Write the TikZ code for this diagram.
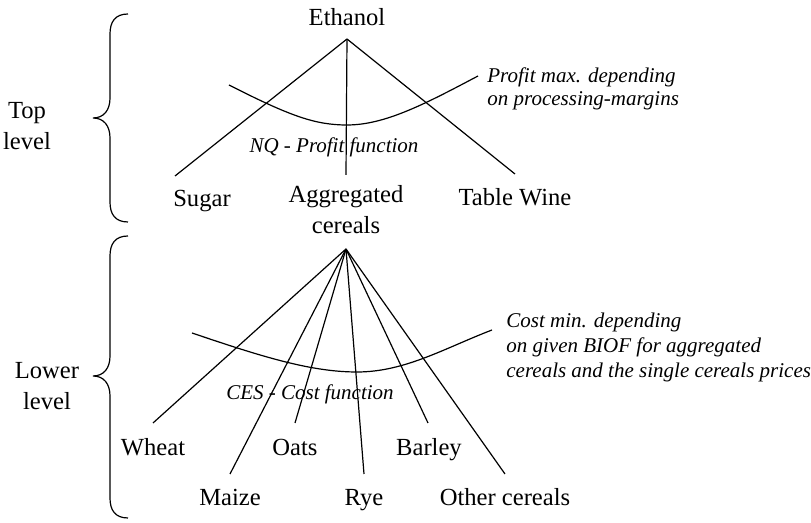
\documentclass[tikz,border=0pt]{standalone}
\usepackage{fontspec}
\setmainfont{Liberation Serif}
\begin{document}
\begin{tikzpicture}[x=0.5pt,y=-0.5pt,
  lbl/.style={inner sep=0pt,font=\fontsize{12.3}{15.5}\selectfont,align=center},
  word/.style={lbl,text height=1.55ex,text depth=0.45ex,yshift=-1.4pt},
  note/.style={inner sep=0pt,anchor=west,align=left,font=\fontsize{10.5}{11.6}\selectfont\itshape},
  edge/.style={line width=0.6pt},
  brc/.style={line width=0.6pt}]
\useasboundingbox (0,0) rectangle (811,523);

% top level
\node[word] (eth) at (347,18) {Ethanol};
\coordinate (ta) at (347,39);
\node[word] (sug) at (202,199) {Sugar};
\node[lbl] (agg) at (346,210) {Aggregated\\cereals};
\node[word] (wine) at (515,198) {Table Wine};
\coordinate (sugE) at (175,176);
\coordinate (aggE) at (346,175);
\coordinate (wineE) at (515,174);
\draw[edge] (ta) -- (sugE);
\draw[edge] (ta) -- (aggE);
\draw[edge] (ta) -- (wineE);
\draw[edge] (229,85) .. controls (290,116) and (315,125) .. (347,125)
  .. controls (385,125) and (425,104) .. (478,76);
\node[note] (pm) at (487,89) {Profit max. depending\\on processing-margins};
\node[word,font=\fontsize{10.5}{12}\selectfont\itshape] (nq) at (334,145) {NQ - Profit function};

% lower level
\coordinate (la) at (346,249);
\node[word] (wh) at (153,448) {Wheat};
\node[word] (oa) at (295,448) {Oats};
\node[word] (ba) at (429,448) {Barley};
\node[word] (ma) at (230,498) {Maize};
\node[word] (ry) at (364,498) {Rye};
\node[word] (oc) at (505,498) {Other cereals};
\coordinate (whE) at (153,423);
\coordinate (oaE) at (295,423);
\coordinate (baE) at (428,423);
\coordinate (maE) at (230,474);
\coordinate (ryE) at (364,474);
\coordinate (ocE) at (505,474);
\foreach \e in {whE,maE,oaE,ryE,baE,ocE} \draw[edge] (la) -- (\e);
\draw[edge] (192,333) .. controls (260,356) and (310,372) .. (357,372)
  .. controls (405,372) and (445,348) .. (492,330);
\node[note,font=\fontsize{10.5}{12.5}\selectfont\itshape] (cm) at (506,347)
  {Cost min. depending\\on given BIOF for aggregated\\cereals and the single cereals prices};
\node[word,font=\fontsize{10.5}{12}\selectfont\itshape] (ces) at (310,392) {CES - Cost function};

% level labels
\node[lbl] (top) at (27,126) {Top\\level};
\node[lbl] (low) at (47,386) {Lower\\level};

% braces
\draw[brc] (128,14) .. controls (115,14) and (110,22) .. (110,34)
  -- (110,98) .. controls (110,110) and (104,118) .. (93,118)
  .. controls (104,118) and (110,126) .. (110,138)
  -- (110,202) .. controls (110,214) and (115,222) .. (128,222);
\draw[brc] (128,236) .. controls (115,236) and (110,244) .. (110,256)
  -- (110,356) .. controls (110,368) and (104,376) .. (93,376)
  .. controls (104,376) and (110,384) .. (110,396)
  -- (110,498) .. controls (110,510) and (115,518) .. (128,518);
\end{tikzpicture}
\end{document}
